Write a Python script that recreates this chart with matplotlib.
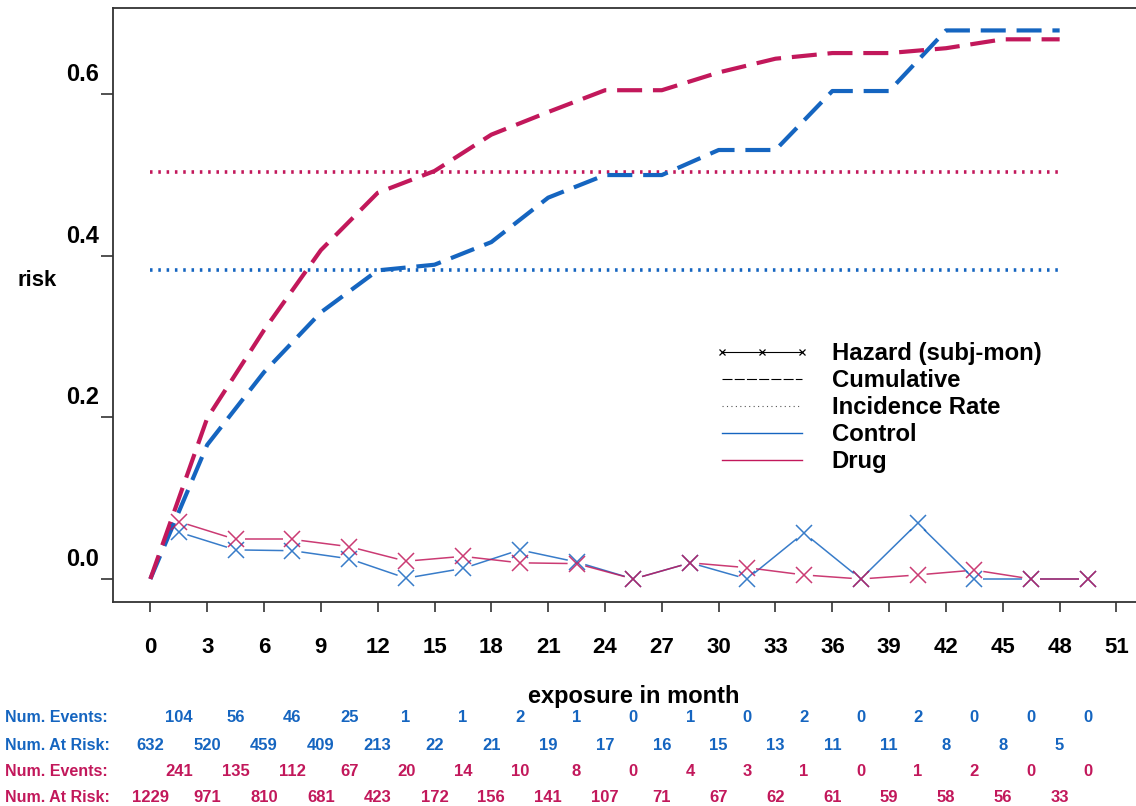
import numpy as np
import matplotlib
matplotlib.use("Agg")
import matplotlib.pyplot as plt
from matplotlib.lines import Line2D
from matplotlib.collections import LineCollection
from matplotlib.transforms import ScaledTranslation, blended_transform_factory

plt.rcParams['font.family'] = ['Liberation Sans', 'DejaVu Sans']

BLUE = "#1565c0"
MAG = "#c2185b"

# interval starts (months) and interval midpoints
months = [0, 3, 6, 9, 12, 15, 18, 21, 24, 27, 30, 33, 36, 39, 42, 45, 48]
mid_months = [1.5, 4.5, 7.5, 10.5, 13.5, 16.5, 19.5, 22.5, 25.5, 28.5,
              31.5, 34.5, 37.5, 40.5, 43.5, 46.5, 49.5]

cum_control = [0.0, 0.166, 0.256, 0.330, 0.382, 0.389, 0.417, 0.472, 0.500,
               0.500, 0.531, 0.531, 0.604, 0.604, 0.679, 0.679, 0.679]
cum_drug = [0.0, 0.199, 0.308, 0.407, 0.478, 0.505, 0.550, 0.578, 0.605,
            0.605, 0.627, 0.644, 0.651, 0.651, 0.657, 0.668, 0.668]

haz_control = [0.058, 0.036, 0.035, 0.025, 0.001, 0.013, 0.036, 0.021, 0.0,
               0.020, 0.0, 0.057, 0.0, 0.069, 0.0, 0.0, 0.0]
haz_drug = [0.071, 0.049, 0.049, 0.040, 0.022, 0.028, 0.020, 0.019, 0.0,
            0.020, 0.014, 0.005, 0.0, 0.005, 0.011, 0.0, 0.0]

inc_control = 0.382
inc_drug = 0.504

events_control = [104, 56, 46, 25, 1, 1, 2, 1, 0, 1, 0, 2, 0, 2, 0, 0, 0]
atrisk_control = [632, 520, 459, 409, 213, 22, 21, 19, 17, 16, 15, 13, 11, 11, 8, 8, 5]
events_drug = [241, 135, 112, 67, 20, 14, 10, 8, 0, 4, 3, 1, 0, 1, 2, 0, 0]
atrisk_drug = [1229, 971, 810, 681, 423, 172, 156, 141, 107, 71, 67, 62, 61, 59, 58, 56, 33]

xticks = list(range(0, 52, 3))
yticks = [0.0, 0.2, 0.4, 0.6]

fig = plt.figure(figsize=(11.36, 8.06), dpi=100)
ax = fig.add_axes([0.0995, 0.2531, 0.91, 0.7369])
ax.set_xlim(-1.97, 52.6)
ax.set_ylim(-0.0285, 0.7067)

for s in ['left', 'top', 'bottom']:
    ax.spines[s].set_color('#333333')
    ax.spines[s].set_linewidth(1.3)
ax.spines['right'].set_visible(False)


def gapped(ax, xs, ys, gap, **kw):
    # segments between points, cut back so they stop short of the markers
    pts = ax.transData.transform(np.column_stack([xs, ys]))
    inv = ax.transData.inverted()
    segs = []
    for p, q in zip(pts[:-1], pts[1:]):
        d = q - p
        L = np.hypot(*d)
        if L <= 2 * gap:
            continue
        u = d / L
        segs.append(inv.transform(np.array([p + u * gap, q - u * gap])))
    ax.add_collection(LineCollection(segs, **kw))


# incidence rates
ax.plot([months[0], months[-1]], [inc_drug, inc_drug], color=MAG, lw=2.6,
        dashes=(0.7, 1.6))
ax.plot([months[0], months[-1]], [inc_control, inc_control], color=BLUE, lw=2.6,
        dashes=(0.7, 1.6))

# cumulative risk
ax.plot(months, cum_control, color=BLUE, lw=3.0, dashes=(6, 2.6))
ax.plot(months, cum_drug, color=MAG, lw=3.0, dashes=(6, 2.6))

# hazard per subject-month
for haz, c in [(haz_control, BLUE), (haz_drug, MAG)]:
    gapped(ax, mid_months, haz, 9, colors=c, linewidths=1.1, alpha=0.85)
    ax.plot(mid_months, haz, ls='none', marker='x', ms=11, mew=1.1,
            color=c, alpha=0.85)

ax.set_xticks(xticks)
ax.set_xticklabels([str(t) for t in xticks], fontsize=16, fontweight='bold')
ax.set_yticks(yticks)
ax.set_yticklabels(["%.1f" % t for t in yticks], fontsize=17, fontweight='bold')
ax.tick_params(axis='x', length=7, width=1.2, color='#333333', pad=18)
ax.tick_params(axis='y', length=9, width=1.2, color='#333333', pad=1)
for lab in ax.get_yticklabels():
    lab.set_transform(lab.get_transform() + ScaledTranslation(0, 0.22, fig.dpi_scale_trans))

fig.text(0.033, 1 - 280 / 806, "risk", fontsize=16, fontweight='bold',
         ha='center', va='center')
fig.text(0.558, 1 - 697 / 806, "exposure in month", fontsize=17,
         fontweight='bold', ha='center', va='center')

# legend
handles = [
    Line2D([], [], color='black', lw=0.8, marker='x', ms=5, mew=0.9),
    Line2D([], [], color='black', lw=0.8, dashes=(9, 2)),
    Line2D([], [], color='#555555', lw=0.8, dashes=(1, 3)),
    Line2D([], [], color=BLUE, lw=1.0),
    Line2D([], [], color=MAG, lw=1.0),
]
labels = ["Hazard (subj-mon)", "Cumulative", "Incidence Rate", "Control", "Drug"]
ax.legend(handles, labels, loc='upper left', bbox_to_anchor=(0.5726, 0.4535),
          frameon=False, numpoints=3, handlelength=3.98, handletextpad=0.92,
          labelspacing=0.17, borderaxespad=0,
          prop={'size': 17.2, 'weight': 'bold'})

# number-at-risk table under the axis
tr = blended_transform_factory(ax.transData, fig.transFigure)
rows = [
    ("Num. Events:", BLUE, mid_months, events_control, 1 - 718 / 806),
    ("Num. At Risk:", BLUE, months, atrisk_control, 1 - 745 / 806),
    ("Num. Events:", MAG, mid_months, events_drug, 1 - 771 / 806),
    ("Num. At Risk:", MAG, months, atrisk_drug, 1 - 798 / 806),
]
for name, c, xs, vals, y in rows:
    fig.text(0.004, y, name, color=c, fontsize=11.5, fontweight='bold',
             ha='left', va='center')
    for xv, v in zip(xs, vals):
        ax.text(xv, y, str(v), color=c, fontsize=12, fontweight='bold',
                ha='center', va='center', transform=tr, clip_on=False)

fig.savefig("out.png", dpi=100)
